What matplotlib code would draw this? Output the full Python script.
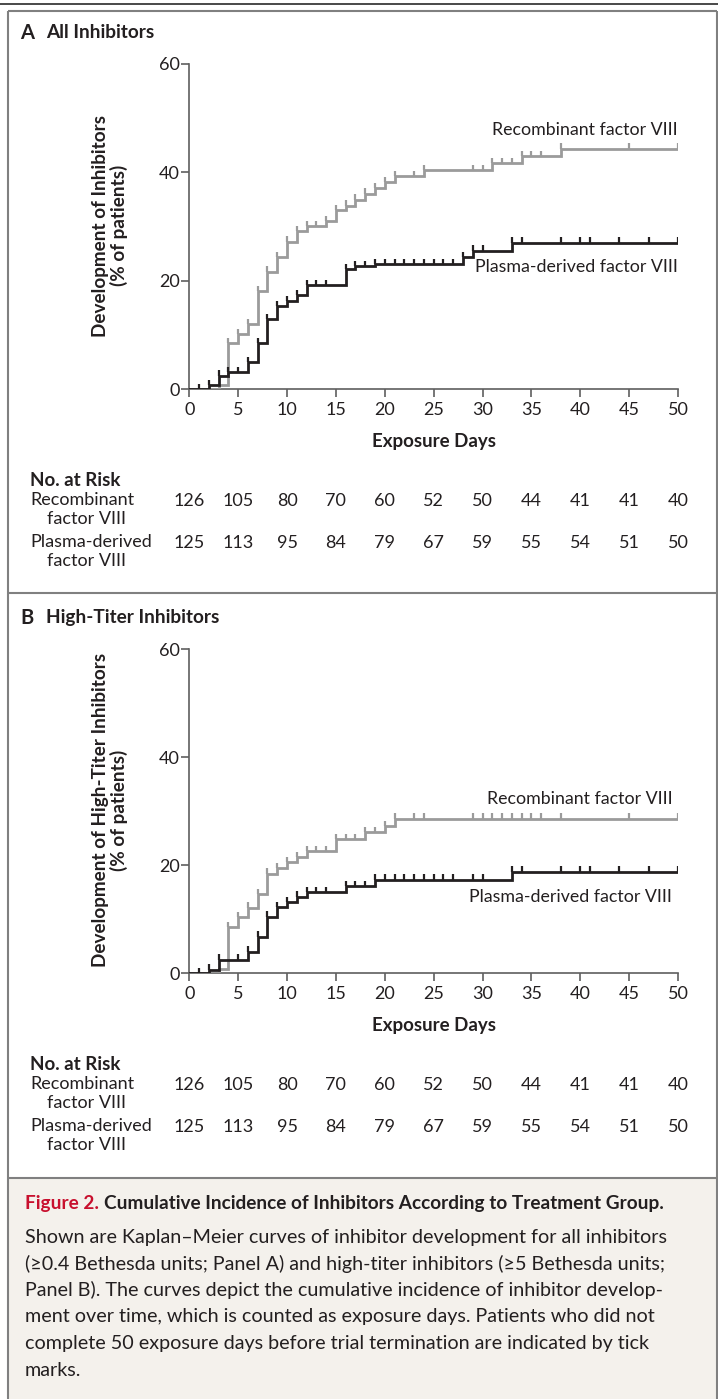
import numpy as np
import matplotlib
matplotlib.use("Agg")
import matplotlib.pyplot as plt
from matplotlib.lines import Line2D
from matplotlib.patches import Rectangle
from matplotlib import transforms

# ---------------- data ----------------
days_ticks = [0, 5, 10, 15, 20, 25, 30, 35, 40, 45, 50]
y_ticks = [0, 20, 40, 60]

# Panel A: all inhibitors
A_rec_times = [0, 3, 4, 5, 6, 7, 8, 9, 10, 11, 12, 14, 15, 16, 17, 18, 19, 20, 21, 24, 31, 34, 38]
A_rec_levels = [0, 0.8, 8.5, 10.2, 12.0, 18.1, 21.7, 24.4, 27.2, 29.2, 30.1, 31.0, 33.0, 33.9,
                35.0, 36.1, 37.1, 38.2, 39.3, 40.4, 41.7, 43.0, 44.4]
A_rec_censor = [4, 5, 6, 7, 8, 9, 10, 11, 12, 13, 14, 15, 16, 17, 18, 19, 20, 21, 23, 24,
                29, 30, 31, 32, 33, 34, 35, 36, 38, 45, 50]

A_pd_times = [0, 2, 3, 4, 6, 7, 8, 9, 10, 11, 12, 16, 17, 19, 28, 29, 33]
A_pd_levels = [0, 0.8, 2.5, 3.2, 5.0, 8.5, 12.9, 15.3, 16.3, 17.4, 19.2, 22.1, 22.7, 23.1,
               24.4, 25.6, 27.0]
A_pd_censor = [1, 2, 3, 4, 5, 6, 7, 8, 9, 10, 11, 12, 13, 14, 16, 17, 18, 19, 20, 21, 22, 23,
               24, 25, 26, 27, 28, 29, 30, 33, 34, 38, 40, 41, 44, 47, 50]

# Panel B: high-titer inhibitors
B_rec_times = [0, 3, 4, 5, 6, 7, 8, 9, 10, 11, 12, 15, 18, 20, 21]
B_rec_levels = [0, 0.8, 8.5, 10.4, 12.1, 14.6, 18.4, 19.4, 20.5, 21.5, 22.6, 24.8, 26.1, 27.2, 28.6]
B_rec_censor = [4, 5, 6, 7, 8, 9, 10, 11, 12, 13, 14, 15, 16, 17, 18, 19, 20, 21, 23, 24,
                29, 30, 31, 32, 33, 34, 35, 36, 38, 45, 50]

B_pd_times = [0, 2, 3, 6, 7, 8, 9, 10, 11, 12, 16, 19, 33]
B_pd_levels = [0, 0.7, 2.5, 4.0, 6.8, 10.5, 12.2, 13.2, 14.2, 15.0, 16.1, 17.3, 18.8]
B_pd_censor = [1, 2, 3, 5, 6, 7, 8, 9, 10, 11, 12, 13, 14, 16, 17, 18, 19, 20, 21, 22, 23, 24,
               25, 26, 27, 29, 30, 33, 34, 38, 40, 41, 44, 47, 50]

risk_rec = [126, 105, 80, 70, 60, 52, 50, 44, 41, 41, 40]
risk_pd = [125, 113, 95, 84, 79, 67, 59, 55, 54, 51, 50]

# ---------------- style ----------------
W, H = 718, 1399
FONT = ["Lato", "DejaVu Sans"]
plt.rcParams["font.family"] = FONT
TXT = "#231f20"
GRAY = "#9b9b9b"
BLACK = "#231f20"
AXC = "#5f5f5f"
BORDER = "#808080"
FS = 13.0

fig = plt.figure(figsize=(W / 100, H / 100), dpi=100)
fig.patch.set_facecolor("white")


def fx(x):
    return x / W


def fy(y):
    return 1 - y / H


def fig_line(x0, y0, x1, y1, color, lw):
    fig.add_artist(Line2D([fx(x0), fx(x1)], [fy(y0), fy(y1)], transform=fig.transFigure,
                          color=color, lw=lw, solid_capstyle="butt"))


# caption background
fig.add_artist(Rectangle((fx(8), 0), fx(717) - fx(8), fy(1178), transform=fig.transFigure,
                         facecolor="#f4f1ec", edgecolor="none", zorder=0))
# borders
fig_line(0, 4, 718, 4, "#2a2a2a", 1.2)
fig_line(8, 11, 717, 11, BORDER, 1.5)
fig_line(8, 11, 8, 1399, BORDER, 1.5)
fig_line(717, 11, 717, 1399, BORDER, 1.5)
fig_line(8, 593, 717, 593, BORDER, 1.5)
fig_line(8, 1178, 717, 1178, BORDER, 1.5)


def km(ax, times, levels, censor, color, z):
    t = list(times) + [50]
    lv = list(levels) + [levels[-1]]
    ax.step(t, lv, where="post", color=color, lw=2.0, zorder=z, solid_joinstyle="miter")
    idx = np.searchsorted(np.array(times), np.array(censor), side="right") - 1
    cl = np.array(levels)[idx]
    ax.vlines(censor, cl, cl + 1.0, color=color, lw=1.6, zorder=z)


def panel(top_px, bottom_px, letter, title, ylabel, data, labels):
    left, right = 189.3, 678.0
    ax = fig.add_axes([fx(left), fy(bottom_px), fx(right) - fx(left), fy(top_px) - fy(bottom_px)])
    ax.set_xlim(0, 50)
    ax.set_ylim(0, 60)
    ax.patch.set_alpha(0)
    for s in ["top", "right"]:
        ax.spines[s].set_visible(False)
    for s in ["left", "bottom"]:
        ax.spines[s].set_color(AXC)
        ax.spines[s].set_linewidth(1.2)
        ax.spines[s].set_clip_on(False)
    ax.set_xticks(days_ticks)
    ax.set_yticks(y_ticks)
    ax.tick_params(direction="out", length=6, width=1.2, color=AXC, labelsize=FS,
                   labelcolor=TXT)
    ax.tick_params(axis="x", pad=3)
    ax.tick_params(axis="y", pad=1.0)
    (rt, rl, rc), (pt, pl, pc) = data
    km(ax, rt, rl, rc, GRAY, 3)
    km(ax, pt, pl, pc, BLACK, 4)
    for (x, y, s) in labels:
        ax.text(x, y, s, ha="right", va="center", fontsize=12.8, color=TXT)
    ax.set_xlabel("Exposure Days", fontsize=13.5, fontweight="bold", color=TXT, labelpad=11)

    # panel title
    fig.text(fx(20), fy(top_px - 31), letter, fontsize=14.5, fontweight="bold", color=TXT,
             va="center", ha="left")
    fig.text(fx(46), fy(top_px - 31), title, fontsize=13.7, fontweight="bold", color=TXT,
             va="center", ha="left")
    # y label
    mid = (top_px + bottom_px) / 2 - 1
    fig.text(fx(110), fy(mid), ylabel, rotation=90, fontsize=13.6, fontweight="bold",
             color=TXT, ha="center", va="center", linespacing=1.05, multialignment="center")

    # risk table
    b = transforms.blended_transform_factory(ax.transData, fig.transFigure)
    y0 = bottom_px + 91
    fig.text(fx(30), fy(y0), "No. at Risk", fontsize=13.5, fontweight="bold", color=TXT,
             va="center")
    fig.text(fx(30), fy(y0 + 20), "Recombinant", fontsize=FS, color=TXT, va="center")
    fig.text(fx(47), fy(y0 + 39), "factor VIII", fontsize=FS, color=TXT, va="center")
    fig.text(fx(30), fy(y0 + 62), "Plasma-derived", fontsize=FS, color=TXT, va="center")
    fig.text(fx(47), fy(y0 + 81), "factor VIII", fontsize=FS, color=TXT, va="center")
    for d, r, p in zip(days_ticks, risk_rec, risk_pd):
        ax.text(d, fy(y0 + 21), str(r), transform=b, ha="center", va="center",
                fontsize=FS, color=TXT, clip_on=False)
        ax.text(d, fy(y0 + 63), str(p), transform=b, ha="center", va="center",
                fontsize=FS, color=TXT, clip_on=False)
    return ax


panel(64, 389.3, "A", "All Inhibitors", "Development of Inhibitors\n(% of patients)",
      ((A_rec_times, A_rec_levels, A_rec_censor), (A_pd_times, A_pd_levels, A_pd_censor)),
      [(50, 47.8, "Recombinant factor VIII"), (50, 22.5, "Plasma-derived factor VIII")])
panel(649, 973.3, "B", "High-Titer Inhibitors",
      "Development of High-Titer Inhibitors\n(% of patients)",
      ((B_rec_times, B_rec_levels, B_rec_censor), (B_pd_times, B_pd_levels, B_pd_censor)),
      [(49.4, 32.3, "Recombinant factor VIII"), (49.4, 14.2, "Plasma-derived factor VIII")])

# caption
t1 = fig.text(fx(25), fy(1203), "Figure 2.", fontsize=13.7, fontweight="bold", color="#c8102e",
              va="center", ha="left")
fig.canvas.draw()
bb = t1.get_window_extent()
fig.text((bb.x1 + 5) / W, fy(1203),
         "Cumulative Incidence of Inhibitors According to Treatment Group.",
         fontsize=13.7, fontweight="bold", color=TXT, va="center", ha="left")
body = [
    "Shown are Kaplan\u2013Meier curves of inhibitor development for all inhibitors",
    "(\u22650.4 Bethesda units; Panel A) and high-titer inhibitors (\u22655 Bethesda units;",
    "Panel B). The curves depict the cumulative incidence of inhibitor develop-",
    "ment over time, which is counted as exposure days. Patients who did not",
    "complete 50 exposure days before trial termination are indicated by tick",
    "marks.",
]
for i, line in enumerate(body):
    fig.text(fx(25), fy(1237 + i * 26.6), line, fontsize=14.2, color=TXT, va="center",
             ha="left")

fig.savefig("out.png", dpi=100)
